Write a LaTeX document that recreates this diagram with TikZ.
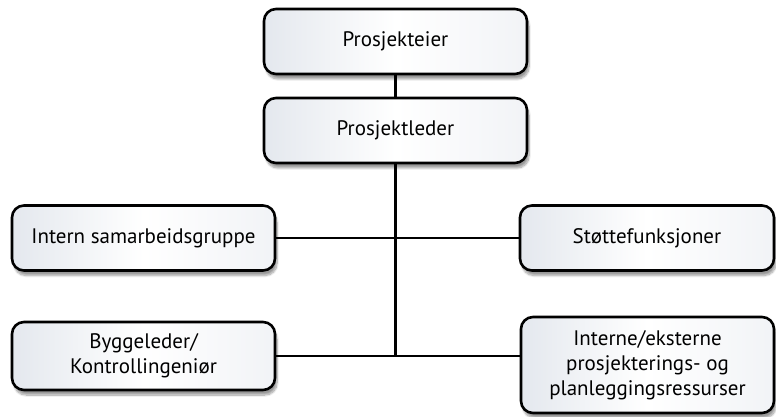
\documentclass[tikz,border=0pt]{standalone}
\usepackage{fontspec}
\setmainfont{PT Sans}
\usetikzlibrary{shadows.blur}
\definecolor{edgegray}{RGB}{228,232,238}
\tikzset{
  box/.style={draw=black, line width=2.6pt, rounded corners=12pt,
    left color=edgegray, right color=edgegray!50, middle color=white,
    align=center, inner sep=0pt, font=\fontsize{21}{25}\selectfont,
    blur shadow={shadow xshift=2pt, shadow yshift=-5pt, shadow blur steps=10, shadow opacity=40}},
  conn/.style={draw=black, line width=2.2pt}
}
\begin{document}
\begin{tikzpicture}
\useasboundingbox (0,0) rectangle (776pt,416pt);
\node[box, minimum width=263pt, minimum height=65pt] (pe) at (395.5pt,374.5pt) {Prosjekteier};
\node[box, minimum width=263pt, minimum height=65pt] (pl) at (395.5pt,285.5pt) {Prosjektleder};
\node[box, minimum width=263pt, minimum height=65pt] (is) at (143.5pt,178pt) {Intern samarbeidsgruppe};
\node[box, minimum width=254pt, minimum height=65pt] (st) at (647pt,178pt) {Støttefunksjoner};
\node[box, minimum width=263pt, minimum height=68pt] (by) at (143.5pt,60pt) {Byggeleder/\\Kontrollingeniør};
\node[box, minimum width=253pt, minimum height=96pt] (ie) at (647.5pt,51pt) {Interne/eksterne\\prosjekterings- og\\planleggingsressurser};
\coordinate (bot) at (pl.south |- by.east);
\draw[conn] (pe) -- (pl);
\draw[conn] (pl) -- (bot);
\draw[conn] (is) -- (st);
\draw[conn] (by.east) -- (by.east -| ie.west);
\end{tikzpicture}
\end{document}
